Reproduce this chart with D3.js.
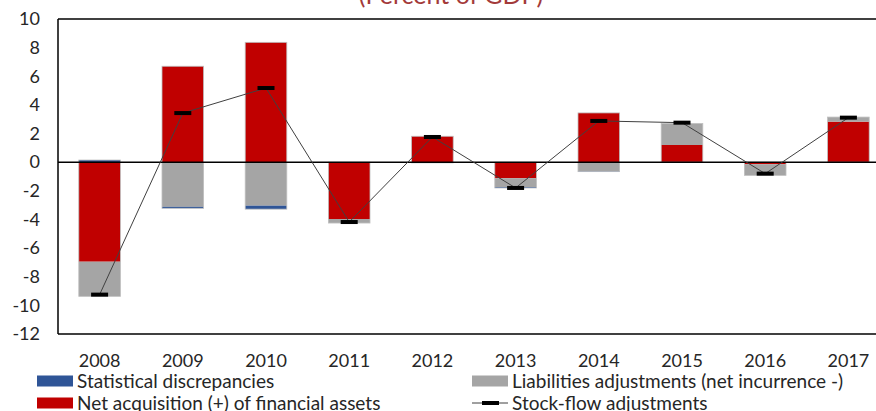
<!DOCTYPE html>
<html>
<head>
<meta charset="utf-8">
<script src="https://cdn.jsdelivr.net/npm/d3@7"></script>
<style>
  body { margin: 0; background: #fff; }
  svg { display: block; font-family: Lato, "Open Sans", sans-serif; }
  .tick text { font-size: 18px; fill: #262626; }
  .legTxt { font-size: 19px; fill: #262626; }
</style>
</head>
<body>
<div id="main"></div>
<script>
// chart data (percent of GDP)
const years = ["2008","2009","2010","2011","2012","2013","2014","2015","2016","2017"];
const netAcquisition = [-6.95, 6.70, 8.37, -3.97, 1.81, -1.12, 3.44, 1.20, -0.14, 2.83];
const liabilitiesAdj = [-2.42, -3.12, -3.04, -0.28, -0.05, -0.62, -0.62, 1.50, -0.78, 0.32];
const statDiscrepancies = [0.15, -0.10, -0.24, 0.00, 0.00, -0.06, -0.04, 0.00, 0.00, 0.00];
const stockFlow = [-9.25, 3.43, 5.18, -4.18, 1.76, -1.80, 2.88, 2.76, -0.80, 3.11];
const yTicks = [10, 8, 6, 4, 2, 0, -2, -4, -6, -8, -10, -12];

const ctx = {
    w: 876,
    h: 411,
    left: 58, right: 890, top: 19, bottom: 334,
};

// series in stacking order (closest to zero first)
const series = [
    {name: "Net acquisition (+) of financial assets", values: netAcquisition, color: "#c00000"},
    {name: "Liabilities adjustments (net incurrence -)", values: liabilitiesAdj, color: "#a5a5a5"},
    {name: "Statistical discrepancies", values: statDiscrepancies, color: "#2f5597"},
];

function createViz(){
    let svgEl = d3.select("#main").append("svg")
        .attr("width", ctx.w).attr("height", ctx.h);

    ctx.xScale = d3.scaleBand().domain(years)
        .range([ctx.left, ctx.right]).paddingInner(0.5).paddingOuter(0.25);
    ctx.yScale = d3.scaleLinear().domain([-12, 10])
        .range([ctx.bottom, ctx.top]);

    // title (clipped at the top in the original)
    svgEl.append("text")
        .attr("x", 451).attr("y", 4)
        .attr("text-anchor", "middle")
        .style("font-size", "25px").style("fill", "#a33a3a")
        .text("(Percent of GDP)");

    // stacked bars, positives and negatives stacked separately
    let barsG = svgEl.append("g");
    years.forEach((yr, i) => {
        let pos = 0, neg = 0;
        series.forEach(s => {
            let v = s.values[i];
            if (v === 0) return;
            let y0, y1;
            if (v > 0) { y0 = pos; y1 = pos + v; pos = y1; }
            else { y0 = neg; y1 = neg + v; neg = y1; }
            barsG.append("rect")
                .attr("x", ctx.xScale(yr))
                .attr("width", ctx.xScale.bandwidth())
                .attr("y", ctx.yScale(Math.max(y0, y1)))
                .attr("height", Math.abs(ctx.yScale(y0) - ctx.yScale(y1)))
                .attr("fill", s.color);
        });
        // light outline around the whole bar
        barsG.append("rect")
            .attr("x", ctx.xScale(yr))
            .attr("width", ctx.xScale.bandwidth())
            .attr("y", ctx.yScale(pos))
            .attr("height", ctx.yScale(neg) - ctx.yScale(pos))
            .attr("fill", "none")
            .attr("stroke", "#bfbfbf").attr("stroke-width", 0.8);
    });

    // frame: left, top, bottom and zero line
    let frame = svgEl.append("g").attr("stroke", "#000").attr("stroke-width", 1.5);
    frame.append("line").attr("x1", ctx.left).attr("x2", ctx.w)
        .attr("y1", ctx.top).attr("y2", ctx.top);
    frame.append("line").attr("x1", ctx.left).attr("x2", ctx.w)
        .attr("y1", ctx.bottom).attr("y2", ctx.bottom);
    frame.append("line").attr("x1", ctx.left).attr("x2", ctx.w)
        .attr("y1", ctx.yScale(0)).attr("y2", ctx.yScale(0));
    frame.append("line").attr("x1", ctx.left).attr("x2", ctx.left)
        .attr("y1", ctx.top).attr("y2", ctx.bottom);

    // y axis labels (plain hyphen for negatives, as in the original)
    svgEl.append("g")
        .attr("transform", `translate(${ctx.left},0)`)
        .call(d3.axisLeft(ctx.yScale).tickValues(yTicks)
              .tickFormat(d => String(d)).tickSize(0).tickPadding(18))
        .call(g => g.select(".domain").remove());

    // x axis labels
    svgEl.append("g")
        .attr("transform", `translate(0,${ctx.bottom})`)
        .call(d3.axisBottom(ctx.xScale).tickSize(0).tickPadding(20))
        .call(g => g.select(".domain").remove());
    svgEl.selectAll(".tick text").style("font-family", "Lato, sans-serif");

    // stock-flow line with dash markers
    let cx = (yr) => ctx.xScale(yr) + ctx.xScale.bandwidth() / 2;
    let line = d3.line().x((d, i) => cx(years[i])).y(d => ctx.yScale(d));
    svgEl.append("path").datum(stockFlow)
        .attr("d", line).attr("fill", "none")
        .attr("stroke", "#404040").attr("stroke-width", 1);
    svgEl.append("g").selectAll("rect").data(stockFlow).join("rect")
        .attr("x", (d, i) => cx(years[i]) - 8.5)
        .attr("y", d => ctx.yScale(d) - 2)
        .attr("width", 17).attr("height", 4)
        .attr("fill", "#000");

    // legend
    let leg = svgEl.append("g");
    const legItems = [
        {x: 37, y: 381, label: "Statistical discrepancies", color: "#2f5597"},
        {x: 472, y: 381, label: "Liabilities adjustments (net incurrence -)", color: "#a5a5a5"},
        {x: 37, y: 403, label: "Net acquisition (+) of financial assets", color: "#c00000"},
    ];
    legItems.forEach(it => {
        leg.append("rect").attr("x", it.x).attr("y", it.y - 5.5)
            .attr("width", 36).attr("height", 11).attr("fill", it.color);
        leg.append("text").attr("class", "legTxt")
            .attr("x", it.x + 40).attr("y", it.y).attr("dy", "0.35em")
            .text(it.label);
    });
    leg.append("line").attr("x1", 472).attr("x2", 508)
        .attr("y1", 403).attr("y2", 403).attr("stroke", "#404040").attr("stroke-width", 1);
    leg.append("rect").attr("x", 482).attr("y", 401).attr("width", 17).attr("height", 4).attr("fill", "#000");
    leg.append("text").attr("class", "legTxt")
        .attr("x", 512).attr("y", 403).attr("dy", "0.35em")
        .text("Stock-flow adjustments");
}

createViz();
</script>
</body>
</html>
